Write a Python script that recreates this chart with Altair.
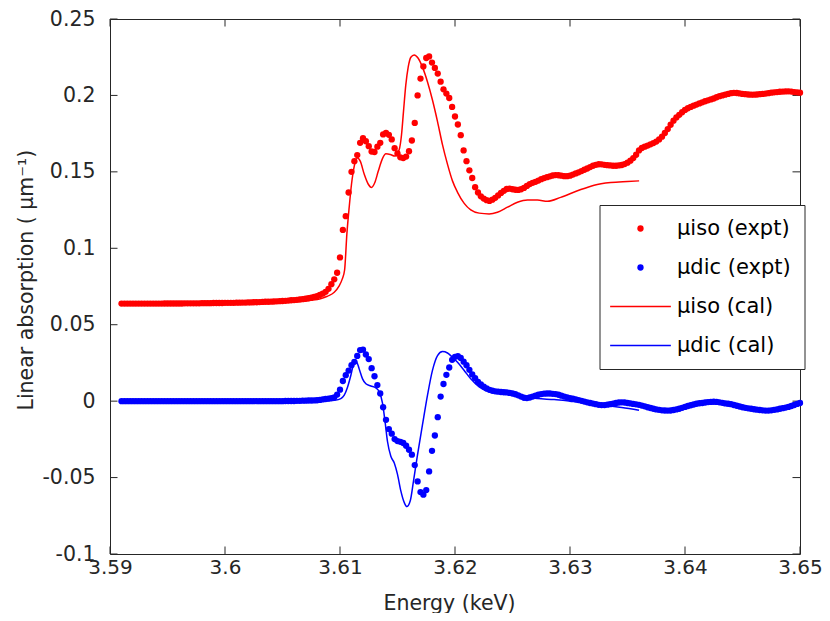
import altair as alt
import pandas as pd

# ---------------- data ----------------
ENERGY = [
    # pre-edge
    3.591, 3.59125, 3.5915, 3.59175, 3.592, 3.59225, 3.5925, 3.59275, 3.593, 3.59325,
    3.5935, 3.59375, 3.594, 3.59425, 3.5945, 3.59475, 3.595, 3.59525, 3.5955, 3.59575,
    3.596, 3.59625, 3.5965, 3.59675, 3.597, 3.59725, 3.5975, 3.59775, 3.598, 3.59825,
    3.5985, 3.59875, 3.599, 3.59925, 3.5995, 3.59975, 3.6, 3.60025, 3.6005, 3.60075,
    3.601, 3.60125, 3.6015, 3.60175, 3.602, 3.60225, 3.6025, 3.60275, 3.603, 3.60325,
    3.6035, 3.60375, 3.604, 3.60425, 3.6045, 3.60475, 3.605, 3.60525, 3.6055, 3.60575,
    3.606, 3.60625, 3.6065, 3.60675, 3.607, 3.60725, 3.6075, 3.60775, 3.608,
    # edge
    3.60825, 3.6085, 3.60875, 3.609, 3.60925, 3.6095, 3.60975, 3.61, 3.61025, 3.6105,
    3.61075, 3.611, 3.61125, 3.6115, 3.61175, 3.612, 3.61225, 3.6125, 3.61275, 3.613,
    3.61325, 3.6135, 3.61375, 3.614, 3.61425, 3.6145, 3.61475, 3.615, 3.61525, 3.6155,
    3.61575, 3.616, 3.61625, 3.6165, 3.61675, 3.617, 3.61725, 3.6175, 3.61775, 3.618,
    3.61825, 3.6185, 3.61875, 3.619, 3.61925, 3.6195, 3.61975, 3.62, 3.62025, 3.6205,
    3.62075, 3.621, 3.62125, 3.6215, 3.62175, 3.622,
    # post-edge
    3.62225, 3.6225, 3.62275, 3.623, 3.62325, 3.6235, 3.62375, 3.624, 3.62425, 3.6245,
    3.62475, 3.625, 3.62525, 3.6255, 3.62575, 3.626, 3.62625, 3.6265, 3.62675, 3.627,
    3.62725, 3.6275, 3.62775, 3.628, 3.62825, 3.6285, 3.62875, 3.629, 3.62925, 3.6295,
    3.62975, 3.63, 3.63025, 3.6305, 3.63075, 3.631, 3.63125, 3.6315, 3.63175, 3.632,
    3.63225, 3.6325, 3.63275, 3.633, 3.63325, 3.6335, 3.63375, 3.634, 3.63425, 3.6345,
    3.63475, 3.635, 3.63525, 3.6355, 3.63575, 3.636, 3.63625, 3.6365, 3.63675, 3.637,
    3.63725, 3.6375, 3.63775, 3.638, 3.63825, 3.6385, 3.63875, 3.639, 3.63925, 3.6395,
    3.63975, 3.64, 3.64025, 3.6405, 3.64075, 3.641, 3.64125, 3.6415, 3.64175, 3.642,
    3.64225, 3.6425, 3.64275, 3.643, 3.64325, 3.6435, 3.64375, 3.644, 3.64425, 3.6445,
    3.64475, 3.645, 3.64525, 3.6455, 3.64575, 3.646, 3.64625, 3.6465, 3.64675, 3.647,
    3.64725, 3.6475, 3.64775, 3.648, 3.64825, 3.6485, 3.64875, 3.649, 3.64925, 3.6495,
    3.64975, 3.65,
]

MU_ISO_EXPT = [
    0.0638, 0.0638, 0.0638, 0.0638, 0.0638, 0.0638, 0.0638, 0.0638, 0.0638, 0.0638,
    0.0638, 0.0638, 0.0638, 0.0638, 0.0638, 0.0639, 0.0639, 0.0639, 0.0639, 0.0639,
    0.0639, 0.0639, 0.0640, 0.0640, 0.0640, 0.0640, 0.0640, 0.0640, 0.0641, 0.0641,
    0.0641, 0.0641, 0.0642, 0.0642, 0.0642, 0.0642, 0.0643, 0.0643, 0.0643, 0.0643,
    0.0644, 0.0644, 0.0645, 0.0645, 0.0646, 0.0646, 0.0647, 0.0647, 0.0648, 0.0649,
    0.0650, 0.0650, 0.0651, 0.0652, 0.0653, 0.0654, 0.0655, 0.0656, 0.0658, 0.0660,
    0.0661, 0.0663, 0.0665, 0.0667, 0.0670, 0.0673, 0.0677, 0.0682, 0.0687,
    0.0695, 0.0703, 0.0715, 0.0735, 0.0765, 0.0797, 0.0840, 0.0940, 0.1120, 0.1210,
    0.1365, 0.1500, 0.1570, 0.1610, 0.1690, 0.1720, 0.1700, 0.1668, 0.1633, 0.1630,
    0.1665, 0.1690, 0.1745, 0.1755, 0.1742, 0.1712, 0.1655, 0.1620, 0.1595, 0.1590,
    0.1600, 0.1635, 0.1705, 0.1820, 0.2000, 0.2110, 0.2190, 0.2245, 0.2255, 0.2215,
    0.2180, 0.2143, 0.2090, 0.2040, 0.2012, 0.1983, 0.1925, 0.1862, 0.1810, 0.1740,
    0.1640, 0.1570, 0.1510, 0.1460, 0.1400, 0.1365,
    0.1340, 0.1325, 0.1315, 0.1310, 0.1318, 0.1330, 0.1346, 0.1362, 0.1376, 0.1388,
    0.1390, 0.1386, 0.1383, 0.1382, 0.1386, 0.1395, 0.1408, 0.1420, 0.1428, 0.1435,
    0.1443, 0.1452, 0.1459, 0.1465, 0.1471, 0.1476, 0.1479, 0.1478, 0.1475, 0.1472,
    0.1472, 0.1475, 0.1482, 0.1490, 0.1497, 0.1505, 0.1514, 0.1522, 0.1531, 0.1540,
    0.1546, 0.1550, 0.1549, 0.1546, 0.1544, 0.1542, 0.1540, 0.1540, 0.1542, 0.1545,
    0.1551, 0.1560, 0.1573, 0.1590, 0.1612, 0.1640, 0.1656, 0.1665, 0.1672, 0.1680,
    0.1688, 0.1698, 0.1712, 0.1730, 0.1754, 0.1780, 0.1808, 0.1835, 0.1856, 0.1873,
    0.1890, 0.1905, 0.1916, 0.1925, 0.1933, 0.1940, 0.1948, 0.1955, 0.1962, 0.1968,
    0.1974, 0.1980, 0.1988, 0.1995, 0.2000, 0.2005, 0.2010, 0.2015, 0.2017, 0.2016,
    0.2013, 0.2010, 0.2008, 0.2006, 0.2005, 0.2005, 0.2006, 0.2008, 0.2010, 0.2012,
    0.2015, 0.2018, 0.2020, 0.2022, 0.2024, 0.2025, 0.2026, 0.2027, 0.2025, 0.2022,
    0.2020, 0.2018,
]

MU_DIC_EXPT = [
    0.0, 0.0, 0.0, 0.0, 0.0, 0.0, 0.0, 0.0, 0.0, 0.0,
    0.0, 0.0, 0.0, 0.0, 0.0, 0.0, 0.0, 0.0, 0.0, 0.0,
    0.0, 0.0, 0.0, 0.0, 0.0, 0.0, 0.0, 0.0, 0.0, 0.0,
    0.0, 0.0, 0.0, 0.0, 0.0, 0.0, 0.0, 0.0, 0.0, 0.0,
    0.0, 0.0, 0.0, 0.0, 0.0, 0.0, 0.0, 0.0, 0.0, 0.0,
    0.0, 0.0, 0.0, 0.0, 0.0, 0.0, 0.0, 0.0001, 0.0001, 0.0001,
    0.0001, 0.0002, 0.0002, 0.0003, 0.0003, 0.0004, 0.0004, 0.0005, 0.0006,
    0.0008, 0.0011, 0.0014, 0.0017, 0.0020, 0.0025, 0.0043, 0.0075, 0.0132, 0.0170,
    0.0200, 0.0235, 0.0257, 0.0296, 0.0334, 0.0337, 0.0305, 0.0275, 0.0216, 0.0163,
    0.0105, 0.0050, -0.0040, -0.0122, -0.0183, -0.0213, -0.0248, -0.0261, -0.0266, -0.0274,
    -0.0292, -0.0318, -0.0350, -0.0418, -0.0525, -0.0595, -0.0612, -0.0582, -0.0460, -0.0325,
    -0.0225, -0.0105, 0.0030, 0.0112, 0.0172, 0.0220, 0.0270, 0.0290, 0.0294, 0.0283,
    0.0258, 0.0235, 0.0205, 0.0175, 0.0150, 0.0125,
    0.0110, 0.0095, 0.0083, 0.0074, 0.0068, 0.0064, 0.0062, 0.0060, 0.0058, 0.0057,
    0.0054, 0.0050, 0.0045, 0.0038, 0.0030, 0.0022, 0.0020, 0.0024, 0.0030, 0.0036,
    0.0042, 0.0046, 0.0049, 0.0050, 0.0050, 0.0048, 0.0046, 0.0042, 0.0036, 0.0030,
    0.0025, 0.0020, 0.0016, 0.0012, 0.0007, 0.0002, -0.0003, -0.0008, -0.0012, -0.0016,
    -0.0020, -0.0024, -0.0026, -0.0026, -0.0023, -0.0020, -0.0016, -0.0012, -0.0009, -0.0008,
    -0.0009, -0.0012, -0.0015, -0.0018, -0.0021, -0.0024, -0.0029, -0.0034, -0.0040, -0.0045,
    -0.0050, -0.0054, -0.0057, -0.0060, -0.0061, -0.0062, -0.0061, -0.0058, -0.0054, -0.0050,
    -0.0044, -0.0038, -0.0032, -0.0027, -0.0022, -0.0017, -0.0014, -0.0012, -0.0009, -0.0006,
    -0.0005, -0.0004, -0.0005, -0.0008, -0.0011, -0.0015, -0.0017, -0.0020, -0.0025, -0.0030,
    -0.0035, -0.0040, -0.0044, -0.0047, -0.0050, -0.0053, -0.0056, -0.0058, -0.0060, -0.0062,
    -0.0062, -0.0060, -0.0057, -0.0054, -0.0050, -0.0046, -0.0042, -0.0038, -0.0032, -0.0025,
    -0.0018, -0.0012,
]

CAL_ISO_E = [
    3.591, 3.6, 3.6045, 3.6065, 3.6075, 3.6083, 3.6089, 3.6095, 3.6099, 3.6102,
    3.6104, 3.6106, 3.6108, 3.611, 3.61124, 3.61147, 3.61176, 3.61211, 3.61246, 3.61274,
    3.61303, 3.61333, 3.6137, 3.61399, 3.61437, 3.61477, 3.61515, 3.61535, 3.61552, 3.61572,
    3.61593, 3.61616, 3.61645, 3.6168, 3.61717, 3.61761, 3.61804, 3.61848, 3.61891, 3.61935,
    3.61978, 3.62022, 3.6208, 3.62137, 3.6221, 3.62297, 3.62369, 3.62456, 3.62543, 3.6263,
    3.62717, 3.62804, 3.62919, 3.63065, 3.6321, 3.63354, 3.63499, 3.63601,
]
CAL_ISO = [
    0.0641, 0.0642, 0.0647, 0.0653, 0.0660, 0.0670, 0.0686, 0.0712, 0.0751, 0.0800,
    0.0858, 0.1096, 0.1269, 0.1419, 0.1538, 0.1592, 0.1570, 0.1484, 0.1419, 0.1398,
    0.1430, 0.1505, 0.1588, 0.1618, 0.1614, 0.1603, 0.1646, 0.1743, 0.1894, 0.2067,
    0.2185, 0.2250, 0.2265, 0.2243, 0.2185, 0.2088, 0.1970, 0.1829, 0.1678, 0.1549,
    0.1441, 0.1366, 0.1294, 0.1251, 0.1230, 0.1225, 0.1236, 0.1269, 0.1301, 0.1316,
    0.1316, 0.1307, 0.1333, 0.1376, 0.1413, 0.1430, 0.1437, 0.1441,
]

CAL_DIC_E = [
    3.591, 3.608, 3.609, 3.6095, 3.61007, 3.61037, 3.61066, 3.61094, 3.61118, 3.61138,
    3.61167, 3.61196, 3.61225, 3.61268, 3.61312, 3.61341, 3.6137, 3.6139, 3.61413, 3.61442,
    3.61472, 3.615, 3.61529, 3.61558, 3.61581, 3.61611, 3.61639, 3.61674, 3.61717, 3.61761,
    3.61804, 3.61848, 3.61891, 3.61935, 3.61978, 3.62022, 3.6208, 3.62137, 3.6221, 3.62282,
    3.62369, 3.62485, 3.62601, 3.62717, 3.62862, 3.63, 3.6315, 3.633, 3.6345, 3.636,
]
CAL_DIC = [
    0.0, 0.0, 0.0002, 0.0005, 0.0017, 0.0039, 0.0093, 0.0168, 0.0243, 0.0265,
    0.0211, 0.0146, 0.0114, 0.0099, 0.0086, 0.0061, -0.0015, -0.0123, -0.0264, -0.0361,
    -0.0404, -0.0479, -0.0587, -0.0662, -0.0690, -0.0652, -0.0523, -0.0351, -0.0156, 0.0039,
    0.0201, 0.0298, 0.0324, 0.0315, 0.0287, 0.0254, 0.0201, 0.0146, 0.0093, 0.0065,
    0.0054, 0.0049, 0.0028, 0.0017, 0.0010, 0.0, -0.0012, -0.0028, -0.0042, -0.0060,
]

LABELS = ["μiso (expt)", "μdic (expt)", "μiso (cal)", "μdic (cal)"]
X_TICKS = [3.59, 3.6, 3.61, 3.62, 3.63, 3.64, 3.65]
Y_TICKS = [-0.1, -0.05, 0, 0.05, 0.1, 0.15, 0.2, 0.25]
X_TITLE = "Energy (keV)"
Y_TITLE = "Linear absorption (   μm⁻¹)"

assert len(ENERGY) == len(MU_ISO_EXPT) == len(MU_DIC_EXPT), (
    len(ENERGY), len(MU_ISO_EXPT), len(MU_DIC_EXPT))
assert len(CAL_ISO_E) == len(CAL_ISO) and len(CAL_DIC_E) == len(CAL_DIC)

# ---------------- tables ----------------
rows = []
for e, a, b in zip(ENERGY, MU_ISO_EXPT, MU_DIC_EXPT):
    rows.append({"E": e, "mu": a, "series": LABELS[0]})
    rows.append({"E": e, "mu": b, "series": LABELS[1]})
for e, v in zip(CAL_ISO_E, CAL_ISO):
    rows.append({"E": e, "mu": v, "series": LABELS[2]})
for e, v in zip(CAL_DIC_E, CAL_DIC):
    rows.append({"E": e, "mu": v, "series": LABELS[3]})
df = pd.DataFrame(rows)
xt = pd.DataFrame({"E": X_TICKS})
yt = pd.DataFrame({"mu": Y_TICKS})

# ---------------- styling ----------------
W, H = 690, 535
FRAME = "#262626"
FONT = "DejaVu Sans"
RED, BLUE = "#ff0000", "#0000ff"
TICK = 7.5
LINE_SYMBOL = "M-9.6,-0.22H9.6V0.22H-9.6Z"

xscale = alt.Scale(domain=[3.59, 3.65], nice=False, zero=False)
yscale = alt.Scale(domain=[-0.1, 0.25], nice=False, zero=False)

x_axis = alt.Axis(
    values=X_TICKS, labelExpr="'' + datum.value", ticks=False, domain=False, grid=False,
    labelFlush=False, labelFont=FONT, labelFontSize=20, labelColor=FRAME, labelPadding=3,
    titleFont=FONT, titleFontSize=20.5, titleFontWeight="normal", titleColor=FRAME,
    titleX=339, titleY=55, titleAlign="center", titleBaseline="alphabetic",
)
y_axis = alt.Axis(
    values=Y_TICKS, labelExpr="'' + datum.value", ticks=False, domain=False, grid=False,
    labelFlush=False, labelFont=FONT, labelFontSize=20.5, labelColor=FRAME, labelPadding=15,
    titleFont=FONT, titleFontSize=20.5, titleFontWeight="normal", titleColor=FRAME,
    titleAngle=270, titleX=-78, titleY=391, titleAlign="left", titleBaseline="alphabetic",
)


def X():
    return alt.X("E:Q", scale=xscale, axis=x_axis, title=X_TITLE)


def Y():
    return alt.Y("mu:Q", scale=yscale, axis=y_axis, title=Y_TITLE)


legend = alt.Legend(
    orient="none", legendX=489.5, legendY=186, title=None,
    padding=13, strokeColor=FRAME, fillColor="white", cornerRadius=0,
    labelFont=FONT, labelFontSize=21, labelColor="#000000",
    symbolSize=40, symbolStrokeWidth=0, symbolOffset=17.5, labelOffset=26,
    rowPadding=17,
)
color = alt.Color(
    "series:N", sort=LABELS,
    scale=alt.Scale(domain=LABELS, range=[RED, BLUE, RED, BLUE]),
    legend=legend,
)
shape = alt.Shape(
    "series:N", sort=LABELS,
    scale=alt.Scale(domain=LABELS, range=["circle", "circle", LINE_SYMBOL, LINE_SYMBOL]),
    legend=legend,
)

points = (
    alt.Chart(df)
    .transform_filter(alt.FieldOneOfPredicate(field="series", oneOf=LABELS[:2]))
    .mark_point(filled=True, size=40, opacity=1)
    .encode(x=X(), y=Y(), color=color, shape=shape)
)
lines = (
    alt.Chart(df)
    .transform_filter(alt.FieldOneOfPredicate(field="series", oneOf=LABELS[2:]))
    .mark_line(strokeWidth=1.5, interpolate="monotone")
    .encode(x=X(), y=Y(), color=color)
)

tick_bottom = alt.Chart(xt).mark_rule(color=FRAME, strokeWidth=1).encode(
    x=X(), y=alt.value(H), y2=alt.value(H - TICK))
tick_top = alt.Chart(xt).mark_rule(color=FRAME, strokeWidth=1).encode(
    x=X(), y=alt.value(0), y2=alt.value(TICK))
tick_left = alt.Chart(yt).mark_rule(color=FRAME, strokeWidth=1).encode(
    y=Y(), x=alt.value(0), x2=alt.value(TICK))
tick_right = alt.Chart(yt).mark_rule(color=FRAME, strokeWidth=1).encode(
    y=Y(), x=alt.value(W - TICK), x2=alt.value(W))

chart = (
    alt.layer(tick_bottom, tick_top, tick_left, tick_right, points, lines)
    .properties(
        width=W, height=H,
        padding={"left": 102, "top": 11, "right": 22, "bottom": 59},
        autosize=alt.AutoSizeParams(type="none"),
        background="white",
    )
    .configure_view(stroke=FRAME, strokeWidth=1)
)

chart.save("out.html", embed_options={"renderer": "svg", "actions": False})
